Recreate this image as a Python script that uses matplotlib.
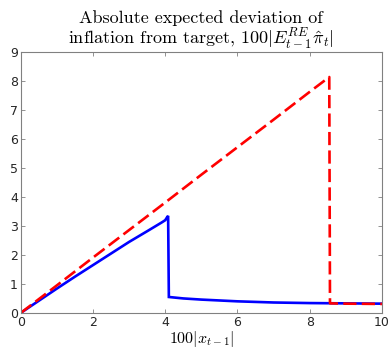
import numpy as np
import matplotlib.pyplot as plt

plt.rcParams['mathtext.fontset'] = 'cm'
plt.rcParams['axes.unicode_minus'] = False

# blue solid curve
x_blue = [0, 0.5, 1, 1.5, 2, 2.5, 3, 3.5, 3.9, 4.0, 4.05, 4.08,
          4.1, 4.5, 5, 6, 7, 8, 9, 10]
y_blue = [0, 0.42, 0.84, 1.25, 1.65, 2.05, 2.45, 2.82, 3.12, 3.2, 3.3, 3.35,
          0.55, 0.5, 0.46, 0.40, 0.36, 0.34, 0.33, 0.32]

# red dashed curve
x_red = [0, 1, 2, 3, 4, 5, 6, 7, 8, 8.54, 8.56, 9, 10]
y_red = [0, 0.95, 1.91, 2.86, 3.81, 4.77, 5.72, 6.67, 7.63, 8.14, 0.33, 0.32, 0.31]

fig = plt.figure(figsize=(3.91, 3.52), dpi=100)
ax = fig.add_axes([0.053, 0.111, 0.924, 0.741])

ax.plot(x_blue, y_blue, color='blue', lw=1.9, solid_joinstyle='miter')
ax.plot(x_red, y_red, color='red', lw=1.9, dashes=(5, 2))

ax.set_xlim(0, 10)
ax.set_ylim(0, 9)
ax.set_xticks(range(0, 11, 2))
ax.set_yticks(range(0, 10))

for s in ax.spines.values():
    s.set_color('#808080')
    s.set_linewidth(0.8)
ax.tick_params(direction='in', top=True, right=True, colors='#808080',
               labelcolor='#262626', labelsize=9, length=3, width=0.6, pad=2)

ax.set_title('Absolute expected deviation of\ninflation from target, '
             r'$100|E^{RE}_{t-1}\hat{\pi}_t|$',
             family='cmr10', fontsize=13, linespacing=1.05, pad=5)
ax.set_xlabel(r'$100|x_{t-1}|$', fontsize=11.5, labelpad=0)

fig.savefig('out.png', dpi=100)
